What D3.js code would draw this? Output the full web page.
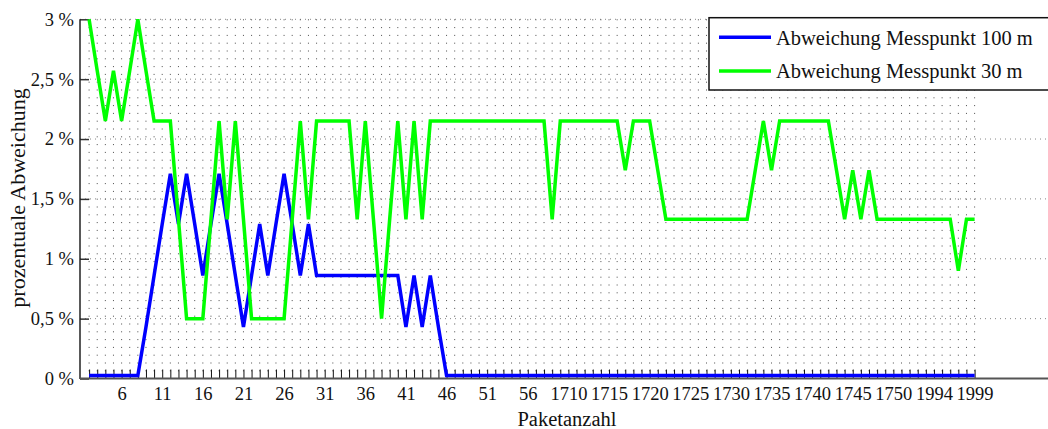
<!DOCTYPE html>
<html>
<head>
<meta charset="utf-8">
<script src="https://cdn.jsdelivr.net/npm/d3@7"></script>
<style>
  html, body { margin: 0; padding: 0; background: #fff; }
  svg { display: block; font-family: "Liberation Serif", "Times New Roman", serif; }
</style>
</head>
<body>
<svg id="chart" width="1048" height="429"></svg>
<script>
// ---------- data ----------
// packet numbers shown on the x axis (three sections of the measurement)
const categories = [].concat(d3.range(2, 61), d3.range(1710, 1751), d3.range(1990, 2000));
const tickLabels = ["6","11","16","21","26","31","36","41","46","51","56",
                    "1710","1715","1720","1725","1730","1735","1740","1745","1750","1994","1999"];
const yTicks = [0, 0.5, 1, 1.5, 2, 2.5, 3];
const seriesNames = ["Abweichung Messpunkt 100 m", "Abweichung Messpunkt 30 m"];

// deviation at measuring point 100 m (%)
const dev100 = [
  0.025,0.025,0.025,0.025,0.025,0.025,0.025,0.43,0.86,1.29,   // 2-11
  1.71,1.29,1.71,1.29,0.86,1.29,1.71,1.29,0.86,0.43,          // 12-21
  0.86,1.29,0.86,1.29,1.71,1.29,0.86,1.29,0.86,0.86,          // 22-31
  0.86,0.86,0.86,0.86,0.86,0.86,0.86,0.86,0.86,0.43,          // 32-41
  0.86,0.43,0.86,0.43,0.025,0.025,0.025,0.025,0.025,0.025,    // 42-51
  0.025,0.025,0.025,0.025,0.025,0.025,0.025,0.025,0.025,      // 52-60
  0.025,0.025,0.025,0.025,0.025,0.025,0.025,0.025,0.025,0.025,// 1710-1719
  0.025,0.025,0.025,0.025,0.025,0.025,0.025,0.025,0.025,0.025,// 1720-1729
  0.025,0.025,0.025,0.025,0.025,0.025,0.025,0.025,0.025,0.025,// 1730-1739
  0.025,0.025,0.025,0.025,0.025,0.025,0.025,0.025,0.025,0.025,// 1740-1749
  0.025,                                                      // 1750
  0.025,0.025,0.025,0.025,0.025,0.025,0.025,0.025,0.025,0.025 // 1990-1999
];
// deviation at measuring point 30 m (%)
const dev30 = [
  3.0,2.57,2.15,2.57,2.15,2.57,3.0,2.57,2.15,2.15,            // 2-11
  2.15,1.33,0.5,0.5,0.5,1.33,2.15,1.33,2.15,1.33,             // 12-21
  0.5,0.5,0.5,0.5,0.5,1.33,2.15,1.33,2.15,2.15,               // 22-31
  2.15,2.15,2.15,1.33,2.15,1.33,0.5,1.33,2.15,1.33,           // 32-41
  2.15,1.33,2.15,2.15,2.15,2.15,2.15,2.15,2.15,2.15,          // 42-51
  2.15,2.15,2.15,2.15,2.15,2.15,2.15,1.33,2.15,               // 52-60
  2.15,2.15,2.15,2.15,2.15,2.15,2.15,1.74,2.15,2.15,          // 1710-1719
  2.15,1.74,1.33,1.33,1.33,1.33,1.33,1.33,1.33,1.33,          // 1720-1729
  1.33,1.33,1.33,1.74,2.15,1.74,2.15,2.15,2.15,2.15,          // 1730-1739
  2.15,2.15,2.15,1.74,1.33,1.74,1.33,1.74,1.33,1.33,          // 1740-1749
  1.33,                                                       // 1750
  1.33,1.33,1.33,1.33,1.33,1.33,1.33,0.9,1.33,1.33            // 1990-1999
];
const colors = ["#0000ff", "#00ff00"];

// ---------- layout ----------
const svg = d3.select("#chart");
const axisLeftX = 80, axisRightX = 1048;
const x = d3.scalePoint().domain(categories).range([89.1, 974.6]);
const y = d3.scaleLinear().domain([0, 3]).range([378.5, 19.3]);
const yBottom = y(0), yTop = y(3);

// grid: vertical dotted lines at each category
svg.append("g").selectAll("line").data(categories).join("line")
  .attr("x1", d => x(d)).attr("x2", d => x(d))
  .attr("y1", yTop).attr("y2", yBottom)
  .attr("stroke", "#222").attr("stroke-width", 1)
  .attr("stroke-dasharray", "1,6.8")
  .attr("opacity", 0.8);

// grid: horizontal dotted lines at major y ticks
svg.append("g").selectAll("line").data(yTicks.filter(d => d > 0)).join("line")
  .attr("x1", axisLeftX).attr("x2", axisRightX)
  .attr("y1", d => y(d)).attr("y2", d => y(d))
  .attr("stroke", "#555").attr("stroke-width", 1)
  .attr("stroke-dasharray", "1,4")
  .attr("opacity", 0.7);

// x axis (ticks inward)
const xAxis = d3.axisBottom(x)
  .tickValues(categories)
  .tickSizeInner(-9).tickSizeOuter(0).tickPadding(8.5)
  .tickFormat(d => tickLabels.includes(String(d)) ? String(d) : "");
const gx = svg.append("g").attr("transform", `translate(0,${yBottom})`).call(xAxis);
gx.select(".domain").remove();
gx.selectAll(".tick line").attr("stroke", "#111").attr("stroke-width", 1);
gx.selectAll(".tick text").attr("font-size", 18.5).attr("fill", "#111")
  .attr("font-family", "Liberation Serif");

// y axis (ticks inward)
const yAxis = d3.axisLeft(y)
  .tickValues(yTicks)
  .tickSizeInner(-9).tickSizeOuter(0).tickPadding(6)
  .tickFormat(d => String(d).replace(".", ",") + " %");
const gy = svg.append("g").attr("transform", `translate(${axisLeftX},0)`).call(yAxis);
gy.select(".domain").remove();
gy.selectAll(".tick line").attr("stroke", "#333").attr("stroke-width", 1.5);
gy.selectAll(".tick text").attr("font-size", 18.5).attr("fill", "#111")
  .attr("font-family", "Liberation Serif");

// axis lines
svg.append("line").attr("x1", axisLeftX).attr("x2", axisLeftX)
  .attr("y1", yTop).attr("y2", yBottom + 0.5)
  .attr("stroke", "#222").attr("stroke-width", 1.5);
svg.append("line").attr("x1", axisLeftX).attr("x2", axisRightX)
  .attr("y1", yBottom).attr("y2", yBottom)
  .attr("stroke", "#555").attr("stroke-width", 2);

// series lines
const line = d3.line().x((d, i) => x(categories[i])).y(d => y(d));
[dev100, dev30].forEach((s, k) => {
  svg.append("path").datum(s)
    .attr("d", line)
    .attr("fill", "none")
    .attr("stroke", colors[k])
    .attr("stroke-width", 3.5)
    .attr("stroke-linejoin", "miter")
    .attr("stroke-miterlimit", 6);
});

// axis titles
svg.append("text").attr("x", 567).attr("y", 426)
  .attr("text-anchor", "middle").attr("font-size", 20.5).attr("fill", "#111")
  .text("Paketanzahl");
svg.append("text").attr("transform", "translate(25,198) rotate(-90)")
  .attr("text-anchor", "middle").attr("font-size", 22).attr("fill", "#111")
  .text("prozentuale Abweichung");

// legend
const lg = svg.append("g");
lg.append("rect").attr("x", 709).attr("y", 17.7).attr("width", 345).attr("height", 72.3)
  .attr("fill", "#fff").attr("stroke", "#111").attr("stroke-width", 1.5);
const legendRowsY = [37.3, 71];
seriesNames.forEach((name, k) => {
  lg.append("line").attr("x1", 719).attr("x2", 771)
    .attr("y1", legendRowsY[k]).attr("y2", legendRowsY[k])
    .attr("stroke", colors[k]).attr("stroke-width", 3.5);
  lg.append("text").attr("x", 776).attr("y", legendRowsY[k] + 7.4)
    .attr("font-size", 20.5).attr("fill", "#111").text(name);
});
</script>
</body>
</html>
